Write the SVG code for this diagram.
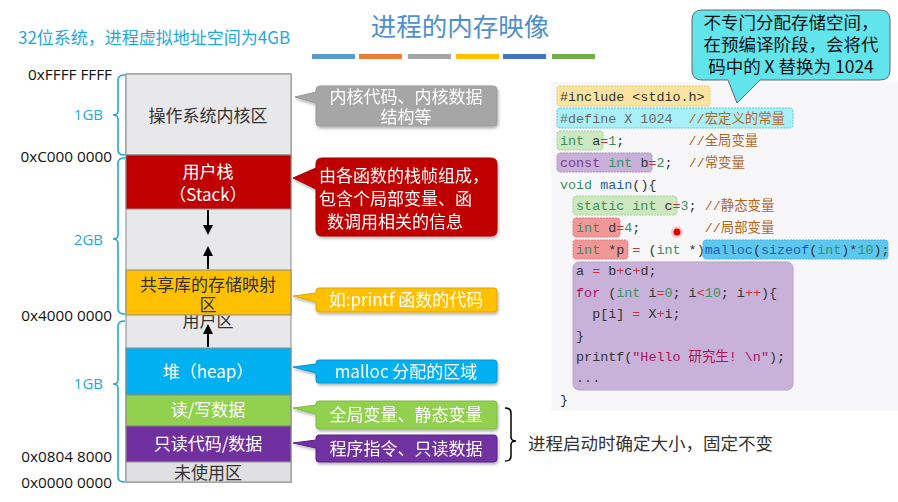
<svg xmlns="http://www.w3.org/2000/svg" width="898" height="502" viewBox="0 0 898 502">
<defs>
<filter id="sh" x="-10%" y="-20%" width="130%" height="150%"><feDropShadow dx="1" dy="2" stdDeviation="1.5" flood-color="#000" flood-opacity="0.3"/></filter>
<marker id="ah" viewBox="0 0 10 10" refX="8" refY="5" markerWidth="5" markerHeight="5" orient="auto"><path d="M0,0 L10,5 L0,10 Z" fill="#000"/></marker>
<clipPath id="uclip"><rect x="126" y="315" width="165" height="33"/></clipPath>
</defs>
<style>
.cjk{font-family:"Noto Sans CJK SC","Noto Sans",sans-serif}
.addr{font-family:"Open Sans","Liberation Sans",sans-serif;font-size:15.3px;fill:#111;text-anchor:end}
.gb{font-family:"Open Sans","Liberation Sans",sans-serif;font-size:15px;fill:#1fa8dd;text-anchor:end}
.brace{fill:none;stroke:#1fa8dd;stroke-width:1.6}
.band{stroke:#8a8a8a;stroke-width:1}
.lbl{font-family:"Noto Sans CJK SC","Open Sans",sans-serif;font-size:17px;text-anchor:middle}
.cl{font-family:"Noto Sans CJK SC","Open Sans",sans-serif;font-size:17px;fill:#fff}
.code{font-family:"Liberation Mono","DejaVu Sans Mono","Noto Sans CJK SC",monospace;font-size:13.4px;fill:#333}
.hl{stroke-width:1;stroke-dasharray:2 1}
.k{fill:#3a8f5c}.c{fill:#b4651e}.o{fill:#c8323c}.n{fill:#3a8f5c}.s{fill:#a8145a}.p{fill:#7b3a96}.m{fill:#1f5fa8}
</style>
<rect width="898" height="502" fill="#fff"/>

<!-- header -->
<text x="18" y="44" class="cjk" font-size="17" fill="#1fa8dd">32位系统，进程虚拟地址空间为4GB</text>
<text x="460" y="36" class="cjk" font-size="25.5" fill="#4f8fcc" text-anchor="middle">进程的内存映像</text>
<g>
<rect x="312" y="54" width="43" height="5" fill="#5b9bd5"/>
<rect x="359" y="54" width="43" height="5" fill="#ed7d31"/>
<rect x="408" y="54" width="43" height="5" fill="#a5a5a5"/>
<rect x="456" y="54" width="43" height="5" fill="#ffc000"/>
<rect x="503" y="54" width="43" height="5" fill="#4472c4"/>
<rect x="552" y="54" width="43" height="5" fill="#70ad47"/>
</g>

<!-- address labels -->
<g id="addresses">
<text x="112" y="80" class="addr">0xFFFF FFFF</text>
<text x="103" y="120" class="gb">1GB</text>
<text x="112" y="162" class="addr">0xC000 0000</text>
<text x="103" y="245" class="gb">2GB</text>
<text x="112" y="321" class="addr">0x4000 0000</text>
<text x="103" y="389" class="gb">1GB</text>
<text x="112" y="462" class="addr">0x0804 8000</text>
<text x="112" y="488" class="addr">0x0000 0000</text>
<path class="brace" d="M125,75 Q118,75 118,80 V111 Q118,115 113,115 Q118,115 118,119 V150 Q118,155 125,155"/>
<path class="brace" d="M125,158 Q118,158 118,163 V235 Q118,239 113,239 Q118,239 118,243 V309 Q118,314 125,314"/>
<path class="brace" d="M125,321 Q118,321 118,326 V380 Q118,384 113,384 Q118,384 118,388 V477 Q118,482 125,482"/>
</g>

<!-- memory column -->
<g id="column">
<rect x="126" y="74" width="165" height="408" fill="#e8e8ea" class="band"/>
<g id="kernel"><rect x="126" y="74" width="165" height="81" fill="#e8e8ea" class="band"/>
<text x="208" y="122" class="lbl" fill="#333">操作系统内核区</text></g>
<g id="stack"><rect x="126" y="155" width="165" height="54" fill="#c00000" class="band"/>
<text x="208" y="178" class="lbl" fill="#fff">用户栈</text>
<text x="208" y="201" class="lbl" fill="#fff">（Stack）</text></g>
<g id="userarea" clip-path="url(#uclip)"><text x="208" y="327" class="lbl" fill="#333">用户区</text></g>
<g id="shared"><rect x="126" y="270" width="165" height="45" fill="#ffc000" class="band"/>
<text x="208" y="291" class="lbl" fill="#333" font-size="16.5">共享库的存储映射</text>
<text x="208" y="311" class="lbl" fill="#333" font-size="16.5">区</text></g>
<g id="heap"><rect x="126" y="348" width="165" height="47" fill="#00b0f0" class="band"/>
<text x="208" y="378" class="lbl" fill="#fff">堆（heap）</text></g>
<g id="rwdata"><rect x="126" y="395" width="165" height="31" fill="#92d050" class="band"/>
<text x="208" y="416" class="lbl" fill="#fff">读/写数据</text></g>
<g id="rodata"><rect x="126" y="426" width="165" height="36" fill="#7030a0" class="band"/>
<text x="208" y="450" class="lbl" fill="#fff">只读代码/数据</text></g>
<g id="unused"><rect x="126" y="462" width="165" height="20" fill="#e0e0e2" class="band"/>
<text x="208" y="479" class="lbl" fill="#333">未使用区</text></g>
</g>

<!-- connectors -->
<g id="connectors" stroke="#000" stroke-width="2" fill="none">
<line x1="208" y1="210" x2="208" y2="233" marker-end="url(#ah)"/>
<line x1="208" y1="269" x2="208" y2="248" marker-end="url(#ah)"/>
<line x1="208" y1="347" x2="208" y2="326" marker-end="url(#ah)"/>
<path d="M505,408 Q511,408 511,413 V437 Q511,441 516,441 Q511,441 511,445 V456 Q511,461 505,461" stroke-width="1.5"/>
</g>

<!-- callouts -->
<g id="c-kernel" filter="url(#sh)">
<path d="M320,86 H493 Q497,86 497,90 V122 Q497,126 493,126 H320 Q316,126 316,122 V103 L295,97 L316,92 V90 Q316,86 320,86 Z" fill="#a6a6a6" stroke="#999"/>
<text x="406" y="103" class="cl" text-anchor="middle" fill="#f4f4f4" font-size="16.5">内核代码、内核数据</text>
<text x="406" y="123" class="cl" text-anchor="middle" fill="#f4f4f4" font-size="16.5">结构等</text>
</g>
<g id="c-stack" filter="url(#sh)">
<path d="M322,158 H491 Q497,158 497,164 V230 Q497,236 491,236 H322 Q316,236 316,230 V189 L293,178 L316,168 V164 Q316,158 322,158 Z" fill="#c00000" stroke="#a00000"/>
<text x="319" y="182" class="cl">由各函数的栈帧组成，</text>
<text x="319" y="205" class="cl">包含个局部变量、函</text>
<text x="327" y="228" class="cl">数调用相关的信息</text>
</g>
<g id="c-shared" filter="url(#sh)">
<path d="M319,288 H494 Q497,288 497,291 V309 Q497,312 494,312 H319 Q316,312 316,309 V302 L293,296 L316,293 V291 Q316,288 319,288 Z" fill="#ffc000" stroke="#e0a800"/>
<text x="406" y="306" class="cl" text-anchor="middle">如:printf 函数的代码</text>
</g>
<g id="c-heap" filter="url(#sh)">
<path d="M319,360 H494 Q497,360 497,363 V380 Q497,383 494,383 H319 Q316,383 316,380 V373 L293,367 L316,364 V363 Q316,360 319,360 Z" fill="#00b0f0" stroke="#0098d0"/>
<text x="406" y="378" class="cl" text-anchor="middle">malloc 分配的区域</text>
</g>
<g id="c-rw" filter="url(#sh)">
<path d="M319,401 H494 Q497,401 497,404 V426 Q497,429 494,429 H319 Q316,429 316,426 V414 L293,408 L316,405 V404 Q316,401 319,401 Z" fill="#92d050" stroke="#7cbc3c"/>
<text x="406" y="421" class="cl" text-anchor="middle">全局变量、静态变量</text>
</g>
<g id="c-ro" filter="url(#sh)">
<path d="M319,435 H494 Q497,435 497,438 V459 Q497,462 494,462 H319 Q316,462 316,459 V448 L293,443 L316,440 V438 Q316,435 319,435 Z" fill="#7030a0" stroke="#5c2088"/>
<text x="406" y="455" class="cl" text-anchor="middle">程序指令、只读数据</text>
</g>
<text x="528" y="450" class="cjk" font-size="17.5" fill="#333">进程启动时确定大小，固定不变</text>

<!-- code panel -->
<g id="code">
<rect x="551" y="82" width="347" height="329" fill="#f7f7f9"/>
<rect x="557" y="86" width="153" height="20" rx="3" fill="#fbe3a0" stroke="#e8c86a" class="hl"/>
<rect x="557" y="108" width="236" height="20" rx="3" fill="#a8f0f8" stroke="#60c8d8" class="hl"/>
<rect x="557" y="131" width="46" height="19" rx="3" fill="#cde8c0" stroke="#a8d090" class="hl"/>
<rect x="557" y="153" width="95" height="19" rx="3" fill="#c8b0d8" stroke="#a890c0" class="hl"/>
<rect x="573" y="196" width="104" height="19" rx="3" fill="#cde8c0" stroke="#a8d090" class="hl"/>
<rect x="573" y="218" width="47" height="19" rx="3" fill="#f09898" stroke="#e07878" class="hl"/>
<rect x="573" y="240" width="55" height="19" rx="3" fill="#f09898" stroke="#e07878" class="hl"/>
<rect x="703" y="240" width="185" height="19" rx="3" fill="#5cc8f0" stroke="#40b0e0" class="hl"/>
<rect x="573" y="262" width="220" height="128" rx="6" fill="#c9b2da" stroke="#b8a4c8"/>
<text class="code" xml:space="preserve" x="560" y="101" fill="#6e6250">#include &lt;stdio.h&gt;</text>
<text class="code" xml:space="preserve" x="560" y="123"><tspan fill="#666">#define X 1024</tspan>  <tspan class="c">//宏定义的常量</tspan></text>
<text class="code" xml:space="preserve" x="560" y="145"><tspan class="k">int</tspan> a<tspan class="o">=</tspan><tspan class="n">1</tspan>;        <tspan class="c">//全局变量</tspan></text>
<text class="code" xml:space="preserve" x="560" y="167"><tspan class="p">const</tspan> <tspan class="k">int</tspan> b<tspan class="o">=</tspan><tspan class="n">2</tspan>;  <tspan class="c">//常变量</tspan></text>
<text class="code" xml:space="preserve" x="560" y="189"><tspan class="k">void</tspan> <tspan class="m">main</tspan>(){</text>
<text class="code" xml:space="preserve" x="560" y="210">  <tspan class="k">static int</tspan> c<tspan class="o">=</tspan><tspan class="n">3</tspan>; <tspan class="c">//静态变量</tspan></text>
<text class="code" xml:space="preserve" x="560" y="232">  <tspan class="k">int</tspan> d<tspan class="o">=</tspan><tspan class="n">4</tspan>;        <tspan class="c">//局部变量</tspan></text>
<text class="code" xml:space="preserve" x="560" y="254">  <tspan class="k">int</tspan> *p <tspan class="o">=</tspan> (<tspan class="k">int</tspan> *)<tspan class="m">malloc</tspan>(<tspan class="m">sizeof</tspan>(<tspan class="k">int</tspan>)*<tspan class="n">10</tspan>);</text>
<text class="code" xml:space="preserve" x="560" y="275">  a <tspan class="o">=</tspan> b<tspan class="o">+</tspan>c<tspan class="o">+</tspan>d;</text>
<text class="code" xml:space="preserve" x="560" y="297">  <tspan class="s">for</tspan> (<tspan class="k">int</tspan> i<tspan class="o">=</tspan><tspan class="n">0</tspan>; i<tspan class="o">&lt;</tspan><tspan class="n">10</tspan>; i<tspan class="o">++</tspan>){</text>
<text class="code" xml:space="preserve" x="560" y="318">    p[i] <tspan class="o">=</tspan> X<tspan class="o">+</tspan>i;</text>
<text class="code" xml:space="preserve" x="560" y="340">  }</text>
<text class="code" xml:space="preserve" x="560" y="361">  printf(<tspan class="s">"Hello 研究生! \n"</tspan>);</text>
<text class="code" xml:space="preserve" x="560" y="382">  ...</text>
<text class="code" xml:space="preserve" x="560" y="404">}</text>
<circle cx="677" cy="232" r="6" fill="#ffb0b0" opacity="0.6"/>
<circle cx="677" cy="232" r="3.5" fill="#e00000"/>
</g>

<!-- top-right callout -->
<g id="c-define">
<path d="M702,10 H880 Q890,10 890,20 V70 Q890,80 880,80 H760 L737,103 L728,80 H702 Q692,80 692,70 V20 Q692,10 702,10 Z" fill="#62e4ec" stroke="#666" stroke-width="1"/>
<text x="791" y="29" class="cjk" font-size="17.5" fill="#111" text-anchor="middle">不专门分配存储空间，</text>
<text x="791" y="51" class="cjk" font-size="17.5" fill="#111" text-anchor="middle">在预编译阶段，会将代</text>
<text x="791" y="73" class="cjk" font-size="17.5" fill="#111" text-anchor="middle">码中的 X 替换为 1024</text>
</g>
</svg>
